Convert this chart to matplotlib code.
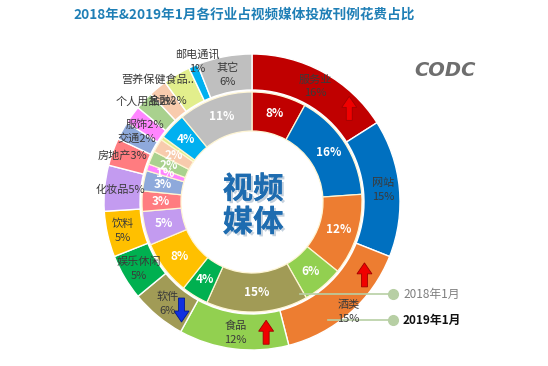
import matplotlib
matplotlib.use("Agg")
import matplotlib.pyplot as plt
import matplotlib.patheffects as pe
from matplotlib.patches import FancyArrow
import numpy as np

plt.rcParams['font.family'] = ['Noto Sans CJK SC', 'DejaVu Sans']

# data: share of video-media ad spend by industry (Jan 2018 inner ring, Jan 2019 outer ring)
industries = ['服务业', '网站', '酒类', '食品', '软件', '娱乐休闲', '饮料', '化妆品',
              '房地产', '交通', '服饰', '个人用品', '金融', '营养保健食品', '邮电通讯', '其它']
share_2019 = [16, 15, 15, 12, 6, 5, 5, 5, 3, 2, 2, 2, 2, 3, 1, 6]
share_2018 = [8, 16, 12, 6, 15, 4, 8, 5, 3, 3, 1, 2, 2, 0.5, 4, 11]
colors = ['#C00000', '#0070C0', '#ED7D31', '#92D050', '#A19B56', '#00B050', '#FFC000', '#C39BF0',
          '#FF7C80', '#8EA9DB', '#FF85FF', '#A9D18E', '#F8CBAD', '#E2EE8C', '#00B0F0', '#BFBFBF']
# trend arrows on the outer ring
arrow_names = ['服务业', '酒类', '食品', '软件']
arrow_up = [True, True, True, False]

title = '2018年&2019年1月各行业占视频媒体投放刊例花费占比'

W, H = 548, 366
fig = plt.figure(figsize=(W / 100, H / 100), dpi=100)
ax = fig.add_axes([0, 0, 1, 1])

cx, cy = 252, H - 202
r_out, r_mid, r_in = 148, 110, 71

outer, _ = ax.pie(share_2019, radius=r_out, center=(cx, cy), startangle=90, counterclock=False,
                  colors=colors, wedgeprops=dict(width=36, edgecolor='white', linewidth=1))
inner, _ = ax.pie(share_2018, radius=r_mid, center=(cx, cy), startangle=90, counterclock=False,
                  colors=colors, wedgeprops=dict(width=r_mid - r_in, edgecolor='#FFF6D5', linewidth=0.9))


def polar(r, ang):
    a = np.deg2rad(ang)
    return cx + r * np.cos(a), cy + r * np.sin(a)


# outer ring labels
single_line = {'化妆品', '房地产', '交通', '服饰', '个人用品', '金融'}
label_r = {'酒类': 146, '个人用品': 146, '营养保健食品': 154, '邮电通讯': 151, '其它': 130, '房地产': 138}
label_da = {'营养保健食品': 7, '邮电通讯': -2}
for w, name, v in zip(outer, industries, share_2019):
    ang = (w.theta1 + w.theta2) / 2 + label_da.get(name, 0)
    x, y = polar(label_r.get(name, 132), ang)
    if name == '营养保健食品':
        txt = '营养保健食品..'
    elif name in single_line:
        txt = f'{name}{v}%'
    else:
        txt = f'{name}\n{v}%'
    ax.text(x, y, txt, ha='center', va='center', fontsize=8, color='#3A3A3A', linespacing=1.5)

# inner ring labels
for w, v in zip(inner, share_2018):
    if v < 1:
        continue
    ang = (w.theta1 + w.theta2) / 2
    x, y = polar(91, ang)
    ax.text(x, y, f'{v}%', ha='center', va='center', fontsize=8.5, color='white', fontweight='bold')

# arrows (fraction measured clockwise from the start of the wedge)
arrow_pos = {'服务业': (0.8, 135), '酒类': (0.21, 134), '食品': (0.19, 131), '软件': (0.2, 129)}
for name, up in zip(arrow_names, arrow_up):
    w = outer[industries.index(name)]
    frac, rr = arrow_pos[name]
    ang = w.theta2 - (w.theta2 - w.theta1) * frac
    x, y = polar(rr, ang)
    col = '#F00000' if up else '#1030E0'
    ec = '#A00000' if up else '#001890'
    dy = 24 if up else -24
    ax.add_patch(FancyArrow(x, y - dy / 2, 0, dy, width=6, head_width=15, head_length=11,
                            length_includes_head=True, facecolor=col, edgecolor=ec, linewidth=0.6))

# centre text
ax.text(cx + 1, cy - 4, '视频\n媒体', ha='center', va='center', fontsize=22, fontweight='bold',
        color='#1E6CB0', linespacing=1.05,
        path_effects=[pe.withSimplePatchShadow(offset=(1.5, -1.5), shadow_rgbFace='#9DB3C8', alpha=0.6),
                      pe.Normal()])

# ring legend
for ys, xs, lab, col, fw in [(294, 300, '2018年1月', '#7F7F7F', 'normal'),
                             (320, 328, '2019年1月', '#111111', 'bold')]:
    ax.plot([xs, 393], [H - ys, H - ys], color='#B7CFA4', lw=1.2)
    ax.plot(393, H - ys, 'o', color='#B7CFA4', ms=7)
    ax.text(403, H - ys, lab, ha='left', va='center', fontsize=8.5, color=col, fontweight=fw)

# logo
ax.text(445, H - 70, 'CODC', ha='center', va='center', fontsize=14, fontstyle='italic',
        fontweight='bold', color='#6E6E6E', family='DejaVu Sans')

ax.text(244, H - 15, title, ha='center', va='center', fontsize=9.8, fontweight='bold', color='#1F7FB6')

ax.set_xlim(0, W)
ax.set_ylim(0, H)
ax.set_aspect('equal')
ax.axis('off')

fig.savefig('out.png', dpi=100)
